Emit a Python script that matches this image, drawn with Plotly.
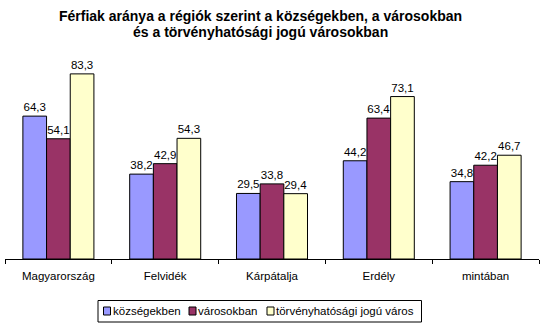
import plotly.graph_objects as go

categories = ["Magyarország", "Felvidék", "Kárpátalja", "Erdély", "mintában"]
kozsegekben = [64.3, 38.2, 29.5, 44.2, 34.8]
varosokban = [54.1, 42.9, 33.8, 63.4, 42.2]
torvenyhatosagi = [83.3, 54.3, 29.4, 73.1, 46.7]

series_names = ["községekben", "városokban", "törvényhatósági jogú város"]
series_values = [kozsegekben, varosokban, torvenyhatosagi]
series_colors = ["#9999FF", "#993366", "#FFFFCC"]

title_lines = [
    "Férfiak aránya a régiók szerint a községekben, a városokban",
    "és a törvényhatósági jogú városokban",
]

font = "Liberation Sans, Arial, sans-serif"
W, H = 546, 331
PL, PR, PT, PB = 5, 539, 59, 259  # plot area in pixels


def px_x(px):
    return (px - PL) / (PR - PL)


def px_y(py):
    return (PB - py) / (PB - PT)


fig = go.Figure()
for name, vals, col in zip(series_names, series_values, series_colors):
    fig.add_trace(go.Bar(
        x=categories, y=vals, name=name,
        marker=dict(color=col, line=dict(color="black", width=1)),
        text=[f"{v:.1f}".replace(".", ",") for v in vals],
        textposition="outside", cliponaxis=False,
        textfont=dict(family=font, size=11.5, color="black"),
        showlegend=False,
    ))

# title (two lines)
for i, (line, cy) in enumerate(zip(title_lines, [16, 32])):
    fig.add_annotation(
        text=f"<b>{line}</b>", xref="paper", yref="paper",
        x=px_x(260), xanchor="center", y=px_y(cy), yanchor="middle",
        showarrow=False, font=dict(family=font, size=14, color="black"),
    )

# legend box
fig.add_shape(type="rect", xref="paper", yref="paper",
              x0=px_x(98), x1=px_x(421.5), y0=px_y(300.5), y1=px_y(322),
              line=dict(color="black", width=1), fillcolor="white")
sw_x = [103.5, 189, 267]
for name, col, sx in zip(series_names, series_colors, sw_x):
    fig.add_shape(type="rect", xref="paper", yref="paper",
                  x0=px_x(sx), x1=px_x(sx + 7), y0=px_y(307), y1=px_y(315),
                  line=dict(color="black", width=1), fillcolor=col)
    fig.add_annotation(
        text=name, xref="paper", yref="paper",
        x=px_x(sx + 8), xanchor="left", y=px_y(311), yanchor="middle",
        showarrow=False, font=dict(family=font, size=11.5, color="black"),
        xshift=-1,
    )

fig.update_layout(
    width=W, height=H,
    margin=dict(l=PL, r=W - PR, t=PT, b=H - PB, autoexpand=False),
    paper_bgcolor="white", plot_bgcolor="white",
    barmode="group", bargap=0.335, bargroupgap=0,
    font=dict(family=font, size=11.5, color="black"),
    xaxis=dict(
        showline=True, linecolor="black", linewidth=1,
        ticks="outside", tickson="boundaries", ticklen=4, tickcolor="black",
        tickwidth=1, ticklabelstandoff=6,
        tickfont=dict(family=font, size=11.5), showgrid=False,
    ),
    yaxis=dict(range=[0, 90], visible=False, showgrid=False),
    showlegend=False,
)

fig.write_html("out.html")
